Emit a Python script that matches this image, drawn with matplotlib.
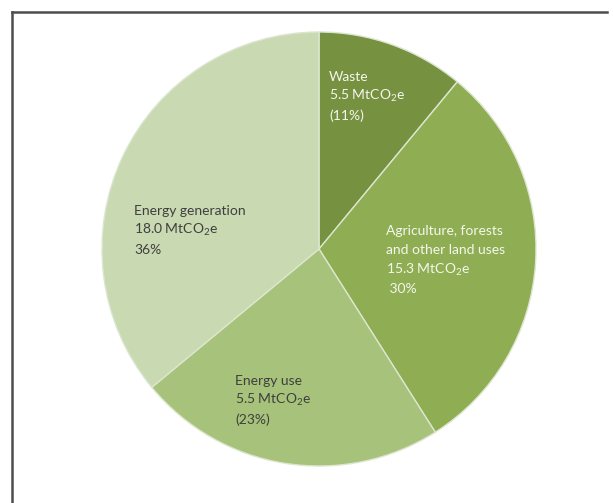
import matplotlib
matplotlib.use("Agg")
import matplotlib.pyplot as plt
from matplotlib.lines import Line2D

# Emissions by sector (share of total, %)
sectors = ["Waste", "Agriculture, forests\nand other land uses", "Energy use", "Energy generation"]
shares = [11, 30, 23, 36]
amounts = ["5.5", "15.3", "5.5", "18.0"]
pct_labels = ["(11%)", " 30%", "(23%)", "36%"]
colors = ["#76913f", "#8fad52", "#a7c27a", "#c9d9b2"]

plt.rcParams["font.family"] = ["Lato", "DejaVu Sans"]
plt.rcParams["mathtext.fontset"] = "custom"
plt.rcParams["mathtext.rm"] = "Lato"
plt.rcParams["mathtext.it"] = "Lato"

W, H = 613, 503
fig = plt.figure(figsize=(W / 100, H / 100), dpi=100)

# pie in pixel terms: centre (319, 249), radius 217
cx, cy, r = 319, 249, 217
ax = fig.add_axes([(cx - r) / W, (H - cy - r) / H, 2 * r / W, 2 * r / H])
ax.pie(shares, colors=colors, startangle=90, counterclock=False,
       wedgeprops=dict(edgecolor="#dce6cf", linewidth=1.0))
ax.set_xlim(-1, 1)
ax.set_ylim(-1, 1)
ax.set_aspect("auto")
ax.axis("off")

# frame (left and top edges)
frame = dict(transform=fig.transFigure, color="#4d4d4d", lw=1.8)
fig.add_artist(Line2D([12 / W, 12 / W], [0, 1 - 12 / H], **frame))
fig.add_artist(Line2D([12 / W, 607 / W], [1 - 12 / H, 1 - 12 / H], **frame))

# label lines: (x, first line y, colour) in pixels
label_pos = [(329, 77, "#f4f7ee"), (386, 231, "#f4f7ee"), (235, 381, "#3f3f3f"), (134, 211, "#3f3f3f")]
step = 19.3

for i in range(len(sectors)):
    x, y0, col = label_pos[i]
    lines = sectors[i].split("\n") + [amounts[i] + " MtCO$_2$e", pct_labels[i]]
    for j, t in enumerate(lines):
        fig.text(x / W, 1 - (y0 + j * step) / H, t, color=col, fontsize=10,
                 ha="left", va="center")

fig.savefig("out.png", dpi=100, facecolor="white")
